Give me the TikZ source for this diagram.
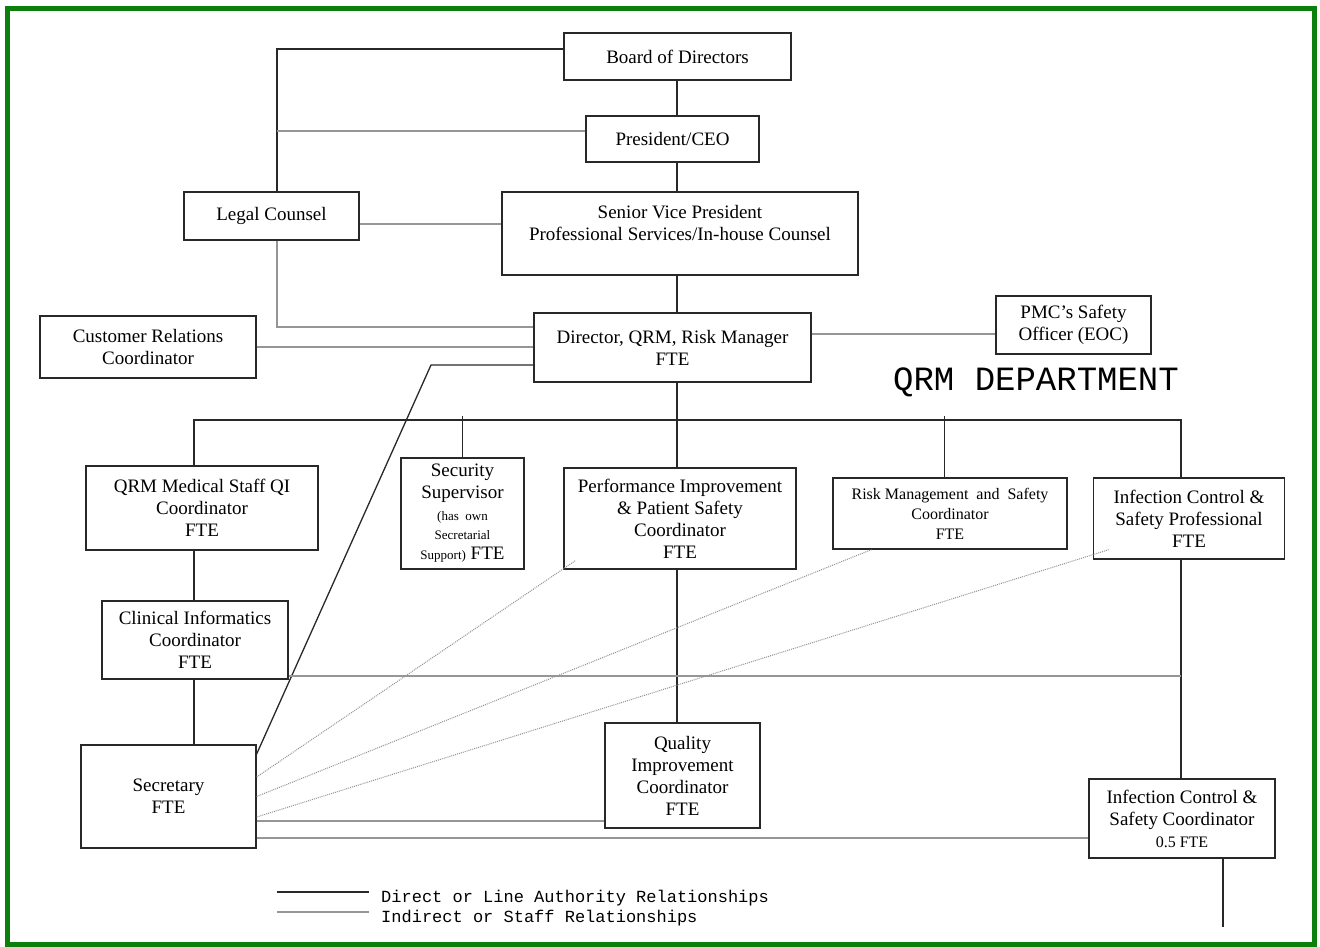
\documentclass[tikz,border=0pt]{standalone}
\usepackage{fontspec}
\setmainfont{Liberation Serif}
\setmonofont{Liberation Mono}
\definecolor{ramka}{RGB}{12,128,12}
\definecolor{linia}{RGB}{40,40,40}
\definecolor{shtab}{RGB}{150,150,150}

\begin{document}
\begin{tikzpicture}[
    x=1pt, y=-1pt,
    % Блоки: прямоугольник с рамкой, текст по центру
    box/.style={draw=linia, line width=1.3pt, align=center, inner sep=0pt,
        font=\fontsize{19}{22}\selectfont},
    % Прямые связи (подчинение)
    direct/.style={draw=linia, line width=1.3pt},
    % Косвенные связи
    staff/.style={draw=shtab, line width=1.5pt},
    staffdot/.style={draw=gray!85, line width=1pt, densely dotted}
]

    \useasboundingbox (0,0) rectangle (1320,946);

    % Верхний уровень
    \node[box, minimum width=227, minimum height=47] (board) at (677.5,56.5) {Board of Directors};
    \node[box, minimum width=173, minimum height=46] (pres) at (672.5,139) {President/CEO};
    \node[box, minimum width=356, minimum height=83] (svp) at (680,233.5)
        {Senior Vice President\\Professional Services/In-house Counsel\\\mbox{}};
    \node[box, minimum width=175, minimum height=48] (legal) at (271.5,216) {Legal Counsel};

    % Директор и соседи
    \node[box, minimum width=216, minimum height=62] (cust) at (148,347) {Customer Relations\\Coordinator};
    \node[box, minimum width=277, minimum height=69] (dir) at (672.5,347.5) {Director, QRM, Risk Manager\\FTE};
    \node[box, minimum width=155, minimum height=58] (pmc) at (1073.5,325) {PMC’s Safety\\Officer (EOC)};
    \node[font=\ttfamily\fontsize{34}{36}\selectfont, inner sep=0pt, anchor=base] (dept) at (1036,390) {QRM DEPARTMENT};

    % Отдел
    \node[box, minimum width=232, minimum height=84] (qrmmed) at (202,508) {QRM Medical Staff QI\\Coordinator\\FTE};
    \node[box, minimum width=123, minimum height=111] (secsup) at (462.5,513.5)
        {Security\\Supervisor\\{\fontsize{13}{15}\selectfont (has~~own}\\[-3pt]{\fontsize{13}{15}\selectfont Secretarial}\\[-2pt]{\fontsize{13}{15}\selectfont Support)} FTE};
    \node[box, minimum width=232, minimum height=101] (perf) at (680,518.5)
        {Performance Improvement\\\& Patient Safety\\Coordinator\\FTE};
    \node[box, minimum width=234, minimum height=71, font=\fontsize{16}{20}\selectfont] (risk) at (950,513.5)
        {Risk Management~ and~ Safety\\Coordinator\\FTE};
    \node[box, minimum width=191, minimum height=81] (icp) at (1189,518.5) {Infection Control \&\\Safety Professional\\FTE};
    \node[box, minimum width=186, minimum height=78] (clin) at (195,640) {Clinical Informatics\\Coordinator\\FTE};
    \node[box, minimum width=175, minimum height=103] (sec) at (168.5,796.5) {Secretary\\FTE};
    \node[box, minimum width=155, minimum height=105] (qi) at (682.5,775.5) {Quality\\Improvement\\Coordinator\\FTE};
    \node[box, minimum width=186, minimum height=79] (icsc) at (1182,818.5)
        {Infection Control \&\\Safety Coordinator\\{\fontsize{16}{19}\selectfont 0.5 FTE}};

    % Опорные точки
    \coordinate (spine) at (677,0);
    \coordinate (legalx) at (277,0);
    \coordinate (busL) at (194,420);
    \coordinate (busR) at (1181,420);
    \coordinate (tick) at (0,416);
    \coordinate (bend) at (431,365);
    \coordinate (tail) at (1223,927);

    % Прямые связи
    \draw[direct] ([yshift=7.5]board.west) -| (legal.north -| legalx);
    \draw[direct] (board.south -| spine) -- (pres.north -| spine);
    \draw[direct] (pres.south -| spine) -- (svp.north -| spine);
    \draw[direct] (svp.south -| spine) -- (dir.north -| spine);
    \draw[direct] (dir.south -| spine) -- (perf.north -| spine);
    \draw[direct] (perf.south -| spine) -- (qi.north -| spine);
    \draw[direct] (qrmmed.north -| busL) |- (busR) -- (icp.north -| busR);
    \draw[direct] (secsup.north) -- (secsup.north |- tick);
    \draw[direct] ([xshift=-5.5]risk.north) -- ([xshift=-5.5]risk.north |- tick);
    \draw[direct] (qrmmed.south -| busL) -- (clin.north -| busL);
    \draw[direct] (clin.south -| busL) -- (sec.north -| busL);
    \draw[direct] (icp.south -| busR) -- (icsc.north -| busR);
    \draw[direct] (icsc.south -| tail) -- (tail);
    \draw[direct] ([yshift=-17.5]dir.west) -- (bend) -- ([yshift=42.5]sec.east);

    % Косвенные связи
    \draw[staff] ([yshift=8]pres.west) -- ([yshift=8]pres.west -| legalx);
    \draw[staff] ([yshift=-8]legal.east) -- ([yshift=-8]legal.east -| svp.west);
    \draw[staff] (legal.south -| legalx) |- ([yshift=20.5]dir.west);
    \draw[staff] (cust.east) -- (cust.east -| dir.west);
    \draw[staff] ([yshift=13.5]dir.east) -- ([yshift=13.5]dir.east -| pmc.west);
    \draw[staff] ([yshift=-36]clin.east) -- ([yshift=-36]clin.east -| busR);
    \draw[staff] ([yshift=-24.5]sec.east) -- ([yshift=-24.5]sec.east -| qi.west);
    \draw[staff] ([yshift=-41.5]sec.east) -- ([yshift=-41.5]sec.east -| icsc.west);
    \draw[staffdot] ([yshift=19.5]sec.east) -- ([xshift=12,yshift=9]perf.south west);
    \draw[staffdot] (sec.east) -- ([xshift=39]risk.south west);
    \draw[staffdot] ([yshift=-20.5]sec.east) -- ([xshift=16,yshift=10]icp.south west);

    % Легенда
    \coordinate (keyA) at (277,892);
    \coordinate (keyB) at (277,912);
    \draw[direct] (keyA) -- ++(92,0);
    \draw[staff] (keyB) -- ++(92,0);
    \node[anchor=base west, inner sep=0pt, font=\ttfamily\fontsize{17}{20}\selectfont] (keyAtxt) at (381,902)
        {Direct or Line Authority Relationships};
    \node[anchor=base west, inner sep=0pt, font=\ttfamily\fontsize{17}{20}\selectfont] (keyBtxt) at (381,922)
        {Indirect or Staff Relationships};

    % Рамка
    \draw[ramka, line width=5] (7,8) rectangle (1314,944);

\end{tikzpicture}
\end{document}
